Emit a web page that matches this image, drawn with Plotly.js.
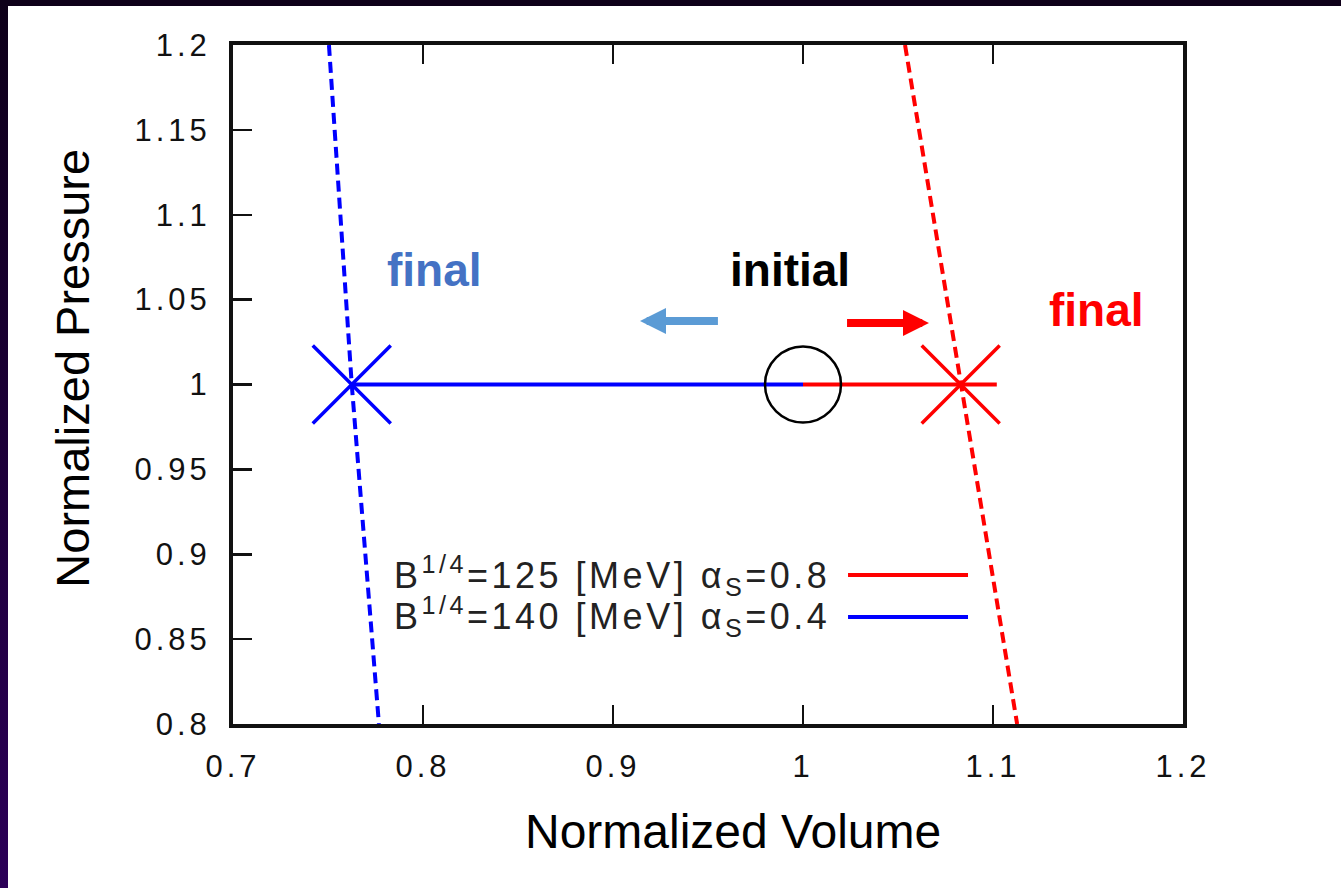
<!DOCTYPE html>
<html><head><meta charset="utf-8">
<script src="https://cdn.plot.ly/plotly-3.0.1.min.js"></script>
<style>
html,body{margin:0;padding:0;background:#fff;overflow:hidden;}
#wrap{position:relative;width:1341px;height:888px;}
#chart{width:1341px;height:888px;}
#topband{position:absolute;left:0;top:0;width:1341px;height:6px;background:#0e0019;z-index:10;}
#leftband{position:absolute;left:0;top:0;width:8px;height:888px;background:linear-gradient(#0e0019,#2c0058);z-index:10;}
.xtick text,.ytick text{letter-spacing:4px;}
.annotation[data-index="3"] text,.annotation[data-index="4"] text{letter-spacing:3.5px;}
</style></head>
<body><div id="wrap"><div id="chart"></div><div id="topband"></div><div id="leftband"></div></div>
<script>
// ---- data ----
const seriesNames = ['B<sup>1/4</sup>=125 [MeV] α<sub>S</sub>=0.8', 'B<sup>1/4</sup>=140 [MeV] α<sub>S</sub>=0.4'];
const seriesColors = ['#ff0000', '#0000ff'];
// dashed curves (volume vs pressure)
const redCurveV = [1.0537, 1.0830, 1.1127];
const redCurveP = [1.2, 1.0, 0.8];
const blueCurveV = [0.7505, 0.7625, 0.7768];
const blueCurveP = [1.2, 1.0, 0.8];
// solid paths at constant pressure
const redPathV = [1.0, 1.102];
const redPathP = [1.0, 1.0];
const bluePathV = [0.7625, 1.0];
const bluePathP = [1.0, 1.0];
// initial and final states
const initialV = [1.0];
const initialP = [1.0];
const finalV = [1.083, 0.7625];
const finalP = [1.0, 1.0];
// labels
const stateLabels = ['final', 'initial', 'final'];
const stateLabelV = [0.8063, 0.9932, 1.1547];
const stateLabelP = [1.0675, 1.0675, 1.0439];
const stateLabelColors = ['#4472c4', '#000000', '#ff0000'];
// arrows: [tail V, tip V, P]
const arrowTailV = [0.9568, 1.0216];
const arrowTipV = [0.9142, 1.0663];
const arrowP = [1.0374, 1.0362];
const arrowColors = ['#5b9bd5', '#ff0000'];
// axes
const xTitle = 'Normalized Volume';
const yTitle = 'Normalized Pressure';
const xTickVals = [0.7, 0.8, 0.9, 1.0, 1.1, 1.2];
const xTickText = ['0.7', '0.8', '0.9', '1', '1.1', '1.2'];
const yTickVals = [0.8, 0.85, 0.9, 0.95, 1.0, 1.05, 1.1, 1.15, 1.2];
const yTickText = ['0.8', '0.85', '0.9', '0.95', '1', '1.05', '1.1', '1.15', '1.2'];

const FAM = 'Liberation Sans, Arial, sans-serif';

const traces = [
  {x: redCurveV, y: redCurveP, mode: 'lines', line: {color: seriesColors[0], width: 4, dash: '11px,6px'}, showlegend: false, hoverinfo: 'skip'},
  {x: blueCurveV, y: blueCurveP, mode: 'lines', line: {color: seriesColors[1], width: 4, dash: '11px,6px'}, showlegend: false, hoverinfo: 'skip'},
  {x: redPathV, y: redPathP, mode: 'lines', name: seriesNames[0], line: {color: seriesColors[0], width: 4}, showlegend: false},
  {x: bluePathV, y: bluePathP, mode: 'lines', name: seriesNames[1], line: {color: seriesColors[1], width: 4}, showlegend: false},
  {x: finalV, y: finalP, mode: 'markers', showlegend: false,
   marker: {symbol: 'x-thin-open', size: 78, color: seriesColors, line: {color: seriesColors, width: 3.5}}},
  {x: initialV, y: initialP, mode: 'markers', showlegend: false,
   marker: {symbol: 'circle-open', size: 76, color: '#000', line: {color: '#000', width: 2.5}}}
];

const annotations = [];
for (let i = 0; i < stateLabels.length; i++) {
  annotations.push({x: stateLabelV[i], y: stateLabelP[i], xref: 'x', yref: 'y', text: stateLabels[i], showarrow: false,
    font: {family: FAM, size: 46, weight: 'bold', color: stateLabelColors[i]}});
}
const legendY = [0.2194, 0.1576];
for (let i = 0; i < seriesNames.length; i++) {
  annotations.push({x: 0.1674, y: legendY[i], xref: 'paper', yref: 'paper', xanchor: 'left', align: 'left', yanchor: 'middle',
    text: seriesNames[i], showarrow: false,
    font: {family: FAM, size: 36, color: '#222'}});
}
for (let i = 0; i < arrowTipV.length; i++) {
  annotations.push({x: arrowTipV[i], y: arrowP[i], ax: arrowTailV[i], ay: arrowP[i], xref: 'x', yref: 'y', axref: 'x', ayref: 'y',
    text: ' ', showarrow: true, arrowhead: 2, arrowsize: 0.65, arrowwidth: 8, arrowcolor: arrowColors[i], standoff: 0, startstandoff: 0});
}
// axis titles (placed as annotations to match the off-centre positions in the reference)
annotations.push({x: 0.526, y: -0.159, xref: 'paper', yref: 'paper', xanchor: 'center', yanchor: 'middle', showarrow: false,
  text: xTitle, font: {family: FAM, size: 48, color: '#000'}});
annotations.push({x: -0.169, y: 0.524, xref: 'paper', yref: 'paper', xanchor: 'center', yanchor: 'middle', showarrow: false,
  textangle: -90, text: yTitle, font: {family: FAM, size: 47, color: '#000'}});

const shapes = [];
for (let i = 0; i < seriesNames.length; i++) {
  shapes.push({type: 'line', xref: 'paper', yref: 'paper', x0: 0.6474, x1: 0.7737, y0: legendY[i], y1: legendY[i],
    line: {color: seriesColors[i], width: 4}});
}

const tickFont = {family: FAM, size: 31, color: '#111'};
const layout = {
  width: 1341, height: 888,
  margin: {l: 233, r: 158, t: 45, b: 164},
  paper_bgcolor: '#fff', plot_bgcolor: '#fff',
  showlegend: false,
  xaxis: {range: [0.7, 1.2], tickvals: xTickVals, ticktext: xTickText, ticks: 'inside', ticklen: 19, tickwidth: 2.5, tickcolor: '#111',
    showline: true, linewidth: 4, linecolor: '#111', mirror: 'ticks', showgrid: false, zeroline: false,
    tickfont: tickFont, ticklabelstandoff: 12},
  yaxis: {range: [0.8, 1.2], tickvals: yTickVals, ticktext: yTickText, ticks: 'inside', ticklen: 19, tickwidth: 2.5, tickcolor: '#111',
    showline: true, linewidth: 4, linecolor: '#111', mirror: true, showgrid: false, zeroline: false,
    tickfont: tickFont, ticklabelstandoff: 12},
  annotations: annotations,
  shapes: shapes
};

Plotly.newPlot('chart', traces, layout, {displayModeBar: false, staticPlot: true});
</script>
</body></html>
